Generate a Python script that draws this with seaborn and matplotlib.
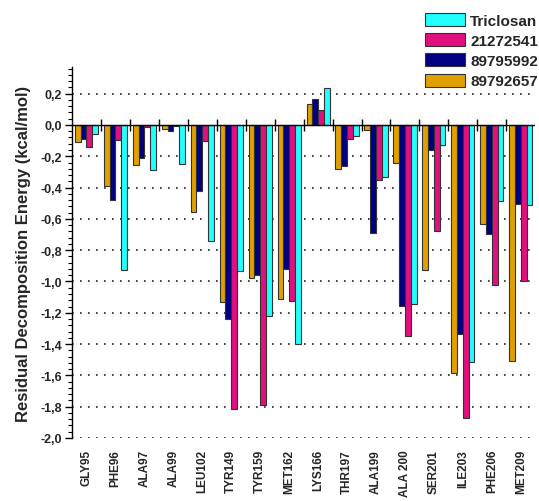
import matplotlib
matplotlib.use("Agg")
import matplotlib.pyplot as plt
from matplotlib.patches import Patch
from matplotlib.ticker import MultipleLocator, FuncFormatter
import seaborn as sns
import pandas as pd

residues = ["GLY95", "PHE96", "ALA97", "ALA99", "LEU102", "TYR149", "TYR159", "MET162",
            "LYS166", "THR197", "ALA199", "ALA 200", "SER201", "ILE203", "PHE206", "MET209"]

s_89792657 = [-0.106, -0.389, -0.256, -0.028, -0.555, -1.128, -0.976, -1.109,
              0.133, -0.282, -0.034, -0.241, -0.929, -1.583, -0.634, -1.508]
s_89795992 = [-0.092, -0.480, -0.213, -0.036, -0.421, -1.239, -0.961, -0.923,
              0.165, -0.263, -0.688, -1.158, -0.160, -1.335, -0.699, -0.502]
s_21272541 = [-0.143, -0.096, -0.015, -0.004, -0.104, -1.812, -1.786, -1.124,
              0.096, -0.090, -0.350, -1.346, -0.679, -1.874, -1.021, -0.998]
s_triclosan = [-0.058, -0.929, -0.288, -0.252, -0.739, -0.934, -1.220, -1.401,
               0.235, -0.070, -0.333, -1.141, -0.128, -1.517, -0.483, -0.513]

series_names = ["89792657", "89795992", "21272541", "Triclosan"]
series_values = [s_89792657, s_89795992, s_21272541, s_triclosan]
colors = ["#E0A000", "#000080", "#E0107F", "#22FFFF"]

rows = []
for name, vals in zip(series_names, series_values):
    for r, v in zip(residues, vals):
        rows.append({"Residue": r, "Compound": name, "Energy": v})
df = pd.DataFrame(rows)

sns.set_style("white")
plt.rcParams["font.family"] = ["Liberation Sans", "DejaVu Sans"]

fig = plt.figure(figsize=(5.39, 5.02), dpi=100)
ax = fig.add_axes([0.1336, 0.1255, 0.993 - 0.1336, 0.8645 - 0.1255])

sns.barplot(data=df, x="Residue", y="Energy", hue="Compound", order=residues,
            hue_order=series_names, palette=colors, errorbar=None, width=0.8,
            edgecolor="#333333", linewidth=0.8, saturation=1, legend=False, ax=ax)

ax.set_xlim(-0.5, len(residues) - 0.5)
ax.set_ylim(-2.0, 0.37)

# grid
ax.yaxis.set_major_locator(MultipleLocator(0.2))
ax.yaxis.set_minor_locator(MultipleLocator(0.04))
for t in [i * 0.2 for i in range(-10, 2)]:
    if abs(t) > 1e-9:
        ax.axhline(t, color="#222222", lw=1.2, ls=(0, (1, 3.8)), zorder=0)
ax.axhline(0, color="black", lw=1.0, zorder=3)
bounds = [i + 0.5 for i in range(len(residues) - 1)]
ax.plot(bounds, [0] * len(bounds), ls="none", marker="|", ms=8, mew=1.0, color="black", zorder=3)

for sp in ["top", "right", "bottom"]:
    ax.spines[sp].set_visible(False)
ax.spines["left"].set_color("black")
ax.spines["left"].set_linewidth(1.0)

ax.yaxis.set_major_formatter(FuncFormatter(lambda v, p: ("%.1f" % v).replace(".", ",").replace("-0,0", "0,0")))
ax.tick_params(axis="y", which="major", direction="out", length=5, width=1, color="black",
               labelsize=9, pad=2, left=True)
ax.tick_params(axis="y", which="minor", direction="out", length=3, width=0.8, color="black", left=True)
for lab in ax.get_yticklabels():
    lab.set_fontweight("bold")

ax.tick_params(axis="x", length=0, pad=8)
ax.set_xticks(range(len(residues)))
ax.set_xticklabels(residues, rotation=90, fontsize=8.5, fontweight="bold",
                   family=["Liberation Sans Narrow", "Liberation Sans", "DejaVu Sans"])
ax.set_xlabel("")
ax.set_ylabel("Residual Decomposition Energy (kcal/mol)", fontsize=12, fontweight="bold",
              family=["Liberation Sans Narrow", "Liberation Sans", "DejaVu Sans"], labelpad=7)

handles = [Patch(facecolor=c, edgecolor="#333333", linewidth=0.8) for c in colors]
order = [3, 2, 1, 0]
leg = fig.legend([handles[i] for i in order], [series_names[i] for i in order],
                 loc="upper right", bbox_to_anchor=(0.998, 0.972), frameon=False,
                 prop={"size": 11, "weight": "bold"}, handlelength=2.6, handleheight=0.92,
                 handletextpad=0.35, labelspacing=0.36, borderpad=0, borderaxespad=0)

fig.savefig("out.png", dpi=100)
